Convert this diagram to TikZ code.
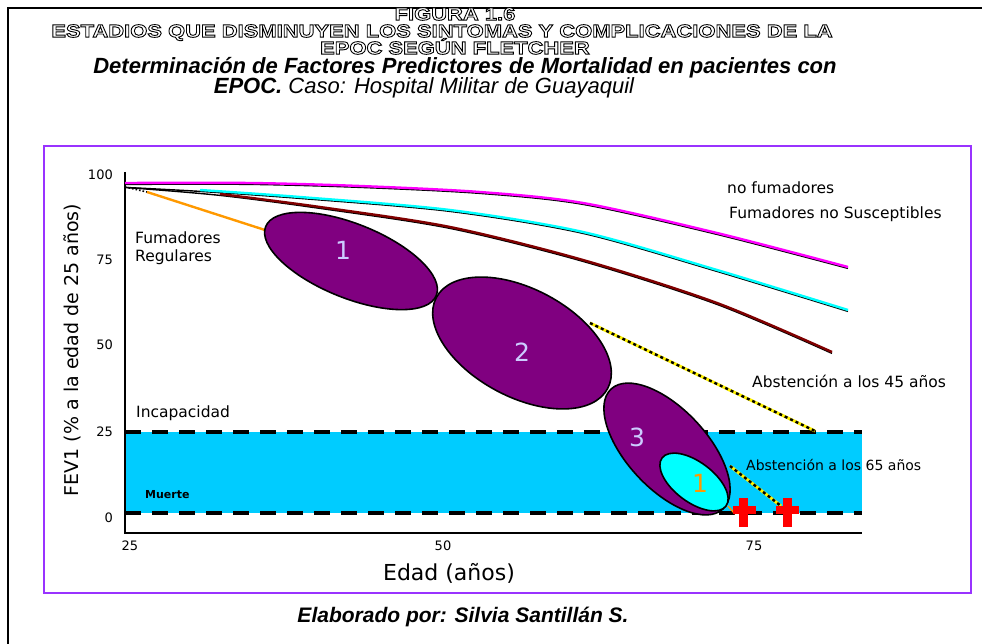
\documentclass[tikz,border=0pt]{standalone}
\usepackage{fontspec}
\setmainfont{Liberation Sans}
\newfontfamily\chartfont{DejaVu Sans}
\newfontfamily\hollowfont[FakeBold=5, FakeStretch=1.22]{Liberation Sans Bold}
\usepackage{xcolor}
\usetikzlibrary{positioning,calc}

\definecolor{stagepurple}{HTML}{800080}
\definecolor{bandcyan}{HTML}{00CCFF}
\definecolor{framepurple}{HTML}{9933FF}
\definecolor{stagelabel}{HTML}{CCCCFF}
\definecolor{linedarkred}{HTML}{800000}
\definecolor{lineorange}{HTML}{FF9900}
\definecolor{linecyan}{HTML}{00FFFF}
\definecolor{linemagenta}{HTML}{FF00FF}

\tikzset{
  titletext/.style={font={\hollowfont\fontsize{18}{17}\selectfont\lineskiplimit=-20pt}, text=white, inner sep=0pt, align=center},
  subtext/.style={font=\fontsize{22}{24}\selectfont\itshape, inner sep=0pt},
  subbold/.style={font=\fontsize{22}{24}\selectfont\bfseries\itshape, inner sep=0pt},
  chartlabel/.style={font=\chartfont\fontsize{15.5}{18}\selectfont, inner sep=0pt, anchor=west},
  ticklabel/.style={font=\chartfont\fontsize{13}{15}\selectfont, inner sep=0pt},
  stagebox/.style={fill=stagepurple, draw=black, line width=1.6pt},
  stagenum/.style={font=\chartfont\fontsize{25}{28}\selectfont, text=stagelabel, inner sep=0pt},
  levelline/.style={line width=3.2pt, dash pattern=on 16pt off 11pt},
  curveshadow/.style={black, line width=1.4pt, yshift=-1.4pt},
  curve/.style={line width=2.4pt},
  quitline/.style={yellow, line width=3pt},
  quitdash/.style={black, line width=2.4pt, dash pattern=on 3pt off 3pt},
  deathcross/.style={fill=red, draw=none}
}

\newcommand{\hollowstroke}{\special{pdf:literal direct 0 G}}

\begin{document}
\begin{tikzpicture}[x=1pt, y=-1pt]
\useasboundingbox (0,0) rectangle (982,644);

\draw[line width=2.6pt] (8,644) -- (8,8) -- (982,8);

\node[titletext] (figtitle) at (442,31) {\hollowstroke\hspace*{26pt}FIGURA 1.6\\ESTADIOS QUE DISMINUYEN LOS SINTOMAS Y COMPLICACIONES DE LA\\\hspace*{26pt}EPOC SEGÚN FLETCHER};

\node[subbold] (subA) at (465,68) {Determinación de Factores Predictores de Mortalidad en pacientes con};
\node[subtext] (subB) at (424,88) {\textbf{EPOC.} Caso: Hospital Militar de Guayaquil};

\draw[framepurple, line width=2.2pt] (44,146) rectangle (971,593);

% zona de incapacidad
\fill[bandcyan] (125,432) rectangle (862,513);
\draw[levelline] (125,432) -- (862,432);
\draw[levelline] (125,513) -- (862,513);

\draw[line width=2.2pt] (125,172) -- (125,533) -- (862,533);

% curvas
\draw[curveshadow] plot[smooth] coordinates {(125,183) (250,183) (360,186) (480,192) (583,203) (717,233) (848,267)};
\draw[curve, linemagenta] plot[smooth] coordinates {(125,183) (250,183) (360,186) (480,192) (583,203) (717,233) (848,267)};
\draw[curveshadow] plot[smooth] coordinates {(125,186) (200,190) (300,197) (450,210) (583,232) (717,270) (848,310)};
\draw[curve, linecyan] plot[smooth] coordinates {(200,190) (300,197) (450,210) (583,232) (717,270) (848,310)};
\draw[curveshadow] plot[smooth] coordinates {(125,186) (220,194) (320,207) (450,227) (583,260) (717,303) (832,352)};
\draw[curve, linedarkred] plot[smooth] coordinates {(220,194) (320,207) (450,227) (583,260) (717,303) (832,352)};
\draw[black, line width=1.6pt, dotted] (125,187) -- (147,192);
\draw[curve, lineorange] (147,192) -- (265,230);

\draw[quitline] (590,323) -- (815,431);
\draw[quitdash] (590,323) -- (815,431);
\draw[quitline] (730,466) -- (781,506);
\draw[quitdash] (730,466) -- (781,506);
\draw[lineorange, line width=1.5pt] (728,506) -- (735,514);

% estadios
\draw[stagebox, rotate around={-22:(351,261)}] (351,261) ellipse [x radius=92, y radius=37];
\draw[stagebox, rotate around={-28:(522,343)}] (522,343) ellipse [x radius=97, y radius=54];
\draw[stagebox, rotate around={-47:(667,449)}] (667,449) ellipse [x radius=82, y radius=40];
\draw[fill=linecyan, draw=black, line width=1.6pt, rotate around={-37:(694,482)}] (694,482) ellipse [x radius=40, y radius=20];

\node[stagenum] (numA) at (343,250) {1};
\node[stagenum] (numB) at (522,352) {2};
\node[stagenum] (numC) at (637,437) {3};
\node[stagenum, text=lineorange] (numD) at (700,483) {1};

\fill[deathcross] (739,498) rectangle (748,527);
\fill[deathcross] (733,506) rectangle (756,514);
\fill[deathcross] (783,498) rectangle (792,527);
\fill[deathcross] (776,506) rectangle (799,514);

% textos
\node[chartlabel] (nofum) at (727,188) {no fumadores};
\node[chartlabel] (nosusc) at (729,214) {Fumadores no Susceptibles};
\node[chartlabel, align=left] (regular) at (135,248) {Fumadores\\Regulares};
\node[chartlabel] (quitA) at (752,381) {Abstención a los 45 años};
\node[chartlabel] (incap) at (136,413) {Incapacidad};
\node[chartlabel, font=\chartfont\bfseries\fontsize{11}{13}\selectfont] (death) at (145,495) {Muerte};
\node[chartlabel, font=\chartfont\fontsize{14}{16}\selectfont] (quitB) at (746,465) {Abstención a los 65 años};

\node[ticklabel, anchor=east] (yA) at (113,175) {100};
\node[ticklabel, anchor=east] (yB) at (113,260) {75};
\node[ticklabel, anchor=east] (yC) at (113,345) {50};
\node[ticklabel, anchor=east] (yD) at (113,432) {25};
\node[ticklabel, anchor=east] (yE) at (113,518) {0};
\node[ticklabel] (xA) at (130,546) {25};
\node[ticklabel] (xB) at (443,546) {50};
\node[ticklabel] (xC) at (754,546) {75};

\node[font=\chartfont\fontsize{19}{22}\selectfont, rotate=90, inner sep=0pt] (ytitle) at (72,350) {FEV1 (\% a la edad de 25 años)};
\node[font=\chartfont\fontsize{22}{25}\selectfont, inner sep=0pt] (xtitle) at (449,573) {Edad (años)};

\node[font=\fontsize{21}{24}\selectfont\bfseries\itshape, inner sep=0pt] (author) at (463,617) {Elaborado por: Silvia Santillán S.};
\end{tikzpicture}
\end{document}
